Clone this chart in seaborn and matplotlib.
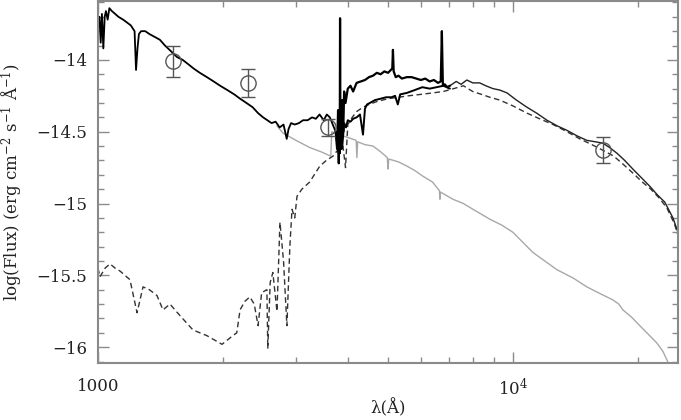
import numpy as np
import pandas as pd
import matplotlib
matplotlib.use('Agg')
import matplotlib.pyplot as plt
import seaborn as sns
from matplotlib.ticker import FixedLocator, FixedFormatter, MultipleLocator, NullFormatter

# observed UV spectrum (solid, black)
uv_lam = [1000, 1008, 1015, 1022, 1030, 1038, 1045, 1055, 1065, 1080,
          1100, 1120, 1150, 1175, 1200, 1225, 1235, 1245, 1255, 1270,
          1300, 1330, 1370, 1410, 1450, 1500, 1550, 1600, 1650, 1700,
          1760, 1830, 1900, 1970, 2050, 2130, 2200, 2280, 2360, 2430,
          2500, 2560, 2620, 2680, 2740, 2800, 2850, 2880, 2920, 2980,
          3050, 3120, 3200, 3280, 3350, 3420, 3500, 3560, 3620, 3680, 3740]
uv_flux = [-13.78, -13.70, -13.88, -13.68, -13.92, -13.70, -13.66, -13.72, -13.64, -13.66,
           -13.68, -13.70, -13.72, -13.74, -13.76, -13.80, -14.07, -13.92, -13.82, -13.80,
           -13.80, -13.82, -13.84, -13.86, -13.90, -13.94, -13.98, -14.00, -14.03, -14.06,
           -14.09, -14.12, -14.15, -14.18, -14.21, -14.24, -14.27, -14.30, -14.33, -14.37,
           -14.40, -14.42, -14.44, -14.43, -14.47, -14.45, -14.55, -14.48, -14.44, -14.45,
           -14.44, -14.42, -14.42, -14.40, -14.41, -14.38, -14.42, -14.38, -14.40, -14.45, -14.50]

# optical spectra (two traces)
optA_lam = [3740, 3770, 3790, 3805, 3815, 3825, 3832, 3840, 3850, 3865,
            3880, 3900, 3920, 3950, 4000, 4060, 4120, 4200, 4300, 4400,
            4500, 4600, 4700, 4800, 4900, 5000, 5080, 5120, 5139, 5160,
            5220, 5300, 5400, 5550, 5700, 5850, 6000, 6150, 6300, 6450,
            6600, 6700, 6742, 6780, 6850, 6950, 7050]
optA_flux = [-14.50, -14.62, -14.35, -14.72, -14.40, -14.65, -13.71, -14.55, -14.30, -14.62,
             -14.28, -14.50, -14.22, -14.30, -14.20, -14.18, -14.22, -14.16, -14.15, -14.14,
             -14.12, -14.11, -14.09, -14.10, -14.08, -14.09, -14.07, -14.06, -13.93, -14.08,
             -14.12, -14.11, -14.13, -14.12, -14.12, -14.13, -14.14, -14.13, -14.15, -14.14,
             -14.16, -14.15, -13.80, -14.18, -14.17, -14.19, -14.18]
optB_lam = [3760, 3800, 3840, 3880, 3920, 3960, 4000, 4060, 4120, 4200,
            4280, 4352, 4400, 4450, 4520, 4650, 4800, 4950, 5100, 5200,
            5280, 5350, 5550, 5800, 6050, 6300, 6550, 6800, 7050]
optB_flux = [-14.55, -14.65, -14.45, -14.60, -14.44, -14.47, -14.42, -14.43, -14.41, -14.40,
             -14.38, -14.52, -14.34, -14.31, -14.30, -14.28, -14.27, -14.26, -14.26, -14.25,
             -14.31, -14.24, -14.23, -14.21, -14.19, -14.20, -14.19, -14.18, -14.20]

# total model (solid, thin)
sum_lam = [7050, 7300, 7500, 7745, 8000, 8318, 8600, 8954, 9300, 9680,
           10200, 10817, 11400, 12080, 12800, 13490, 14300, 15070, 15800, 16480,
           17100, 17820, 18600, 19460, 20400, 21380, 22300, 23230, 24310, 25000]
sum_flux = [-14.18, -14.15, -14.17, -14.14, -14.16, -14.16, -14.18, -14.20, -14.21, -14.23,
            -14.28, -14.33, -14.37, -14.42, -14.46, -14.49, -14.53, -14.56, -14.57, -14.58,
            -14.61, -14.65, -14.70, -14.76, -14.82, -14.88, -14.94, -14.99, -15.10, -15.20]

# cool component (dashed)
cool_lam = [1000, 1011, 1040, 1069, 1100, 1130, 1194, 1242, 1284, 1330,
            1387, 1434, 1491, 1576, 1694, 1831, 1990, 2113, 2160, 2200,
            2260, 2323, 2380, 2431, 2480, 2553, 2566, 2600, 2639, 2700,
            2745, 2800, 2853, 2900, 2935, 2980, 3017, 3100, 3238, 3423,
            3550, 3684, 3800, 3894, 3950, 4000, 4100, 4200, 4350, 4500,
            4700, 5000, 5300, 5600, 6000, 6400, 6800, 7200, 7600, 8000,
            8400, 8800, 9300, 10000, 10800, 11600, 12500, 13500, 14500, 15500,
            16500, 17500, 18500, 19500, 20500, 21500, 22500, 23500, 24500, 25000]
cool_flux = [-15.45, -15.51, -15.45, -15.42, -15.45, -15.47, -15.53, -15.76, -15.58, -15.60,
             -15.64, -15.74, -15.70, -15.78, -15.88, -15.92, -15.98, -15.92, -15.90, -15.74,
             -15.68, -15.65, -15.70, -15.85, -15.62, -15.60, -16.01, -15.55, -15.48, -15.75,
             -15.13, -15.40, -15.85, -15.30, -15.04, -15.10, -14.95, -14.90, -14.85, -14.74,
             -14.70, -14.67, -14.62, -14.60, -14.75, -14.45, -14.40, -14.36, -14.33, -14.31,
             -14.29, -14.27, -14.26, -14.25, -14.24, -14.23, -14.22, -14.20, -14.18, -14.22,
             -14.24, -14.26, -14.28, -14.32, -14.37, -14.41, -14.45, -14.50, -14.55, -14.59,
             -14.63, -14.67, -14.73, -14.79, -14.85, -14.90, -14.96, -15.03, -15.14, -15.22]

# hot component (grey), visible part beyond the UV spectrum
hot_lam = [2700, 2793, 3000, 3238, 3450, 3640, 3660, 3800, 4000,
           4190, 4207, 4225, 4400, 4603, 4800, 4980, 5000, 5020, 5300,
           5558, 5800, 6071, 6400, 6650, 6670, 6690, 7167, 7600, 8013,
           8813, 9400, 10000, 11170, 12760, 14000, 15070, 16300, 17400, 18000,
           18410, 19300, 20220, 21200, 22220, 23000, 23610, 24300]
hot_flux = [-14.46, -14.51, -14.56, -14.61, -14.64, -14.67, -14.50, -14.52, -14.54,
            -14.56, -14.68, -14.57, -14.59, -14.60, -14.64, -14.68, -14.76, -14.69, -14.71,
            -14.74, -14.77, -14.81, -14.85, -14.91, -14.97, -14.92, -14.97, -15.00, -15.04,
            -15.11, -15.15, -15.20, -15.34, -15.46, -15.52, -15.58, -15.63, -15.67, -15.70,
            -15.74, -15.79, -15.85, -15.91, -15.97, -16.03, -16.10, -16.20]

# photometry
phot_lam = [1520, 2300, 3580, 16480]
phot_flux = [-14.01, -14.16, -14.47, -14.63]
phot_err = [0.11, 0.10, 0.06, 0.09]

sns.set_theme(style='ticks')
plt.rcParams['font.family'] = ['DejaVu Serif']
plt.rcParams['mathtext.fontset'] = 'dejavuserif'

fig = plt.figure(figsize=(6.81, 4.2), dpi=100)
ax = fig.add_axes([98 / 681, 1 - 363 / 420, 580 / 681, 362 / 420])

sns.lineplot(x=hot_lam, y=hot_flux, ax=ax, color='#a8a8a8', lw=1.0, sort=False, estimator=None)
sns.lineplot(x=cool_lam, y=cool_flux, ax=ax, color='#333333', lw=1.0, sort=False,
             estimator=None, linestyle=(0, (4, 2.5)))
sns.lineplot(x=sum_lam, y=sum_flux, ax=ax, color='#222222', lw=1.0, sort=False, estimator=None)
sns.lineplot(x=uv_lam, y=uv_flux, ax=ax, color='black', lw=1.3, sort=False, estimator=None)
sns.lineplot(x=optB_lam, y=optB_flux, ax=ax, color='black', lw=1.4, sort=False, estimator=None)
sns.lineplot(x=optA_lam, y=optA_flux, ax=ax, color='black', lw=1.6, sort=False, estimator=None)

ax.errorbar(phot_lam, phot_flux, yerr=phot_err, fmt='o', ms=11, mfc='none', mec='#555555',
            mew=1.0, ecolor='#555555', elinewidth=1.0, capsize=5, capthick=1.0, zorder=5)

ax.set_xscale('log')
ax.set_xlim(1000, 25000)
ax.set_ylim(-16.11, -13.59)

ax.xaxis.set_major_locator(FixedLocator([1000, 10000]))
ax.xaxis.set_major_formatter(FixedFormatter(['1000', r'$10^4$']))
ax.xaxis.set_minor_locator(FixedLocator([2000, 3000, 4000, 5000, 6000, 7000, 8000, 9000, 20000]))
ax.xaxis.set_minor_formatter(NullFormatter())
ax.yaxis.set_major_locator(FixedLocator([-16, -15.5, -15, -14.5, -14]))
ax.yaxis.set_major_formatter(FixedFormatter(['\u221216', '\u221215.5', '\u221215', '\u221214.5', '\u221214']))
ax.yaxis.set_minor_locator(MultipleLocator(0.1))

for s in ax.spines.values():
    s.set_visible(True)
    s.set_color('#8a8a8a')
    s.set_linewidth(1.5)
ax.tick_params(which='both', direction='in', top=True, right=True, color='#8a8a8a',
               labelsize=12, labelcolor='#222222')
ax.tick_params(axis='y', pad=8)
ax.tick_params(axis='x', pad=11)
ax.tick_params(which='major', length=8, width=1.0)
ax.tick_params(which='minor', length=4, width=1.0)

ax.set_xlabel('\u03bb(\u00c5)', fontsize=12, color='#222222')
ax.set_ylabel(r'log(Flux) (erg cm$^{-2}$ s$^{-1}$ $\mathrm{\AA}^{-1}$)', fontsize=12,
              color='#222222')
ax.xaxis.set_label_coords(0.5, -(399 - 363) / 362)
ax.yaxis.set_label_coords((24 - 98) / 580, 0.5)

fig.savefig('out.png', dpi=100)
